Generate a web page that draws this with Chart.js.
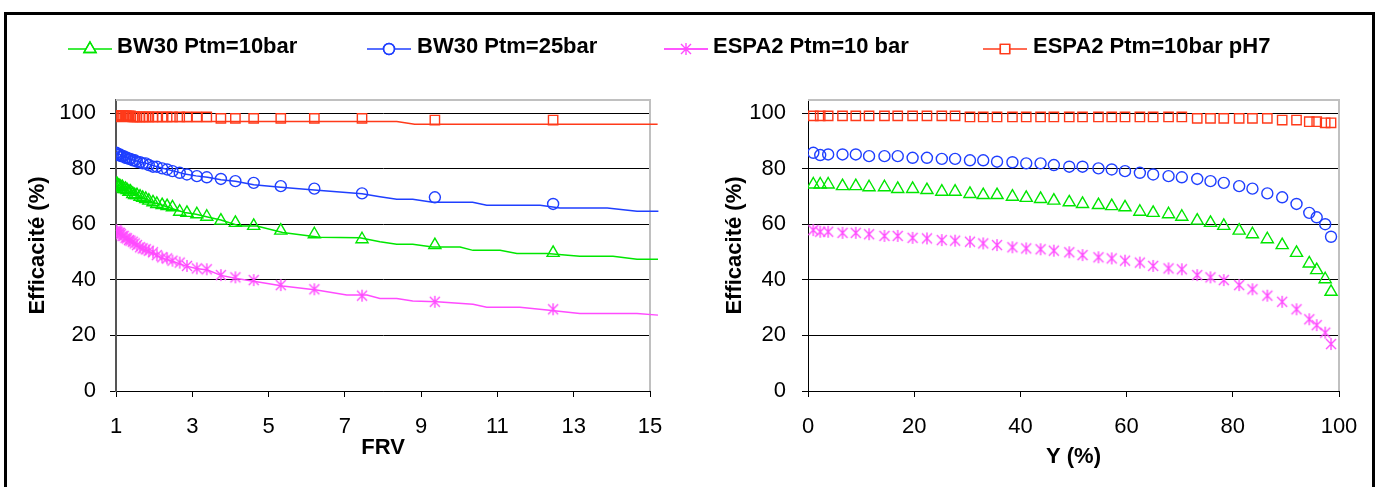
<!DOCTYPE html>
<html><head><meta charset="utf-8">
<script src="https://cdn.jsdelivr.net/npm/chart.js@4.4.1/dist/chart.umd.min.js"></script>
<style>
html,body{margin:0;padding:0;background:#fff;width:1377px;height:487px;overflow:hidden;}
#frame{position:absolute;left:4px;top:12px;width:1365px;height:600px;border:3px solid #000;}
canvas.ch{position:absolute;top:0;}
.leg{position:absolute;font:bold 22px 'Liberation Sans',Arial,sans-serif;line-height:26px;top:33px;white-space:nowrap;color:#000;}
.lic{position:absolute;top:37px;}
</style></head><body>
<div id="frame"></div>
<canvas id="cl" class="ch" style="left:0px" width="690" height="487"></canvas>
<canvas id="cr" class="ch" style="left:690px" width="687" height="487"></canvas>
<canvas id="l1" class="lic" style="left:67px" width="46" height="24"></canvas><span class="leg" style="left:117px">BW30 Ptm=10bar</span>
<canvas id="l2" class="lic" style="left:366px" width="46" height="24"></canvas><span class="leg" style="left:417px">BW30 Ptm=25bar</span>
<canvas id="l3" class="lic" style="left:663px" width="46" height="24"></canvas><span class="leg" style="left:713px">ESPA2 Ptm=10 bar</span>
<canvas id="l4" class="lic" style="left:982px" width="46" height="24"></canvas><span class="leg" style="left:1033px">ESPA2 Ptm=10bar pH7</span>
<script>
// ---- data ----
const seriesNames = ['BW30 Ptm=10bar', 'BW30 Ptm=25bar', 'ESPA2 Ptm=10 bar', 'ESPA2 Ptm=10bar pH7'];
const frvTicks = [1, 3, 5, 7, 9, 11, 13, 15];
const yPctTicks = [0, 20, 40, 60, 80, 100];
const effTicks = [0, 20, 40, 60, 80, 100];

// recovery Y (%) of each measured point (right chart)
const yPct = [1.0, 2.3, 3.8, 6.5, 9.0, 11.5, 14.4, 16.9, 19.7, 22.4, 25.2, 27.7, 30.5, 33.0, 35.6, 38.5, 41.1, 43.8, 46.3, 49.2,
              51.7, 54.7, 57.2, 59.7, 62.5, 65.0, 67.9, 70.4, 73.3, 75.8, 78.3, 81.2, 83.7, 86.5, 89.3, 92.0, 94.4, 95.8, 97.4, 98.5];
// FRV of the points shown in the left chart (first 36 points)
const frv = [1.01, 1.02, 1.04, 1.07, 1.10, 1.13, 1.17, 1.20, 1.25, 1.29, 1.34, 1.38, 1.44, 1.49, 1.55, 1.63, 1.70, 1.78, 1.86, 1.97,
             2.07, 2.21, 2.34, 2.48, 2.67, 2.86, 3.12, 3.38, 3.75, 4.13, 4.61, 5.32, 6.20, 7.45, 9.36, 12.46];

const effBW30_10 = [74.3, 74.3, 74.3, 73.7, 73.7, 73.3, 73.3, 72.7, 72.7, 72.3, 71.7, 71.7, 70.9, 70.5, 70.5, 69.9, 69.5, 69.1, 68.5, 67.9,
                    67.3, 66.9, 66.5, 66.1, 64.5, 64.1, 63.6, 62.7, 61.3, 60.5, 59.4, 57.7, 56.4, 54.6, 52.5, 49.7, 45.9, 43.5, 40.2, 35.7];
const effBW30_25 = [85.7, 84.9, 85.1, 85.1, 85.1, 84.5, 84.5, 84.5, 83.9, 83.9, 83.5, 83.5, 83.0, 83.0, 82.5, 82.3, 81.9, 81.9, 81.3, 80.7,
                    80.7, 80.1, 79.7, 79.1, 78.5, 77.9, 77.3, 76.9, 76.3, 75.5, 74.9, 73.7, 72.8, 71.1, 69.7, 67.3, 64.1, 62.5, 60.0, 55.5];
const effESPA2 = [57.9, 57.3, 57.3, 56.9, 56.9, 56.4, 55.8, 55.8, 55.1, 54.9, 54.3, 54.1, 53.7, 53.1, 52.5, 51.7, 51.3, 51.0, 50.5, 49.9,
                  48.9, 48.1, 47.7, 46.9, 46.2, 45.0, 44.1, 43.8, 41.7, 40.9, 39.9, 38.1, 36.6, 34.3, 32.1, 29.4, 25.8, 23.7, 21.0, 16.9];
const effESPA2pH7 = [99.0, 99.0, 99.0, 99.0, 99.0, 99.0, 99.0, 99.0, 99.0, 99.0, 99.0, 99.0, 98.6, 98.6, 98.6, 98.6, 98.6, 98.6, 98.6, 98.6,
                     98.6, 98.6, 98.6, 98.6, 98.6, 98.6, 98.6, 98.6, 98.1, 98.1, 98.1, 98.1, 98.1, 98.1, 97.5, 97.5, 96.9, 96.9, 96.5, 96.5];

// continuous curves of the left chart (FRV, efficiency)
const lineBW30_10_x = [1.0, 1.1, 1.25, 1.4, 1.6, 1.8, 2.0, 2.2, 2.5, 2.8, 3.1, 3.4, 3.75, 4.24, 4.69, 5.37, 6.34, 7.39, 7.92, 8.36, 8.78, 9.30, 10.02, 10.36, 11.07, 11.51, 12.30, 13.16, 14.03, 14.66, 15.21];
const lineBW30_10_y = [74.3, 73.7, 72.7, 71.4, 70.0, 69.0, 67.7, 66.9, 65.5, 64.2, 63.6, 62.6, 61.5, 59.4, 59.4, 57.0, 55.3, 55.1, 53.7, 52.8, 52.8, 51.8, 51.8, 50.6, 50.6, 49.5, 49.5, 48.5, 48.5, 47.4, 47.4];
const lineBW30_25_x = [1.0, 1.1, 1.25, 1.4, 1.6, 1.8, 2.0, 2.2, 2.5, 2.8, 3.1, 3.4, 3.75, 4.13, 4.61, 5.32, 6.20, 7.45, 7.92, 8.36, 8.78, 9.30, 10.35, 10.72, 12.12, 12.64, 13.88, 14.66, 15.22];
const lineBW30_25_y = [85.7, 85.1, 84.2, 83.4, 82.5, 81.9, 81.0, 80.2, 79.2, 78.1, 77.4, 76.9, 76.0, 75.5, 74.2, 73.3, 72.3, 71.0, 69.9, 69.0, 69.0, 67.9, 67.9, 66.8, 66.8, 65.8, 65.8, 64.7, 64.7];
const lineESPA2_x = [1.0, 1.1, 1.25, 1.4, 1.6, 1.8, 2.0, 2.2, 2.5, 2.8, 3.1, 3.4, 3.75, 4.16, 4.69, 5.37, 6.26, 7.05, 7.58, 7.92, 8.36, 8.78, 9.41, 10.36, 10.72, 11.59, 12.30, 13.16, 14.66, 15.21];
const lineESPA2_y = [57.9, 56.9, 55.1, 53.9, 51.8, 50.6, 49.3, 47.9, 46.6, 45.1, 44.1, 43.5, 41.6, 40.5, 39.3, 37.8, 36.3, 34.5, 34.5, 33.3, 33.3, 32.4, 32.1, 31.2, 30.1, 30.1, 29.1, 27.9, 27.9, 27.3];
const lineESPA2pH7_x = [1.0, 8.36, 8.83, 15.2];
const lineESPA2pH7_y = [97.0, 97.0, 96.0, 96.0];

// ---- styling ----
const FONT = "'Liberation Sans', Arial, sans-serif";
Chart.defaults.font.family = FONT;
Chart.defaults.font.size = 22;
Chart.defaults.color = '#000';
const GREEN = '#00e600', BLUE = '#1f3fff', MAGENTA = '#ff4bff', RED = '#ff3a1a';

function asterisk(color) {
  const c = document.createElement('canvas');
  c.width = 14; c.height = 14;
  const g = c.getContext('2d');
  g.strokeStyle = color; g.lineWidth = 1.4;
  g.beginPath();
  g.moveTo(7, 1); g.lineTo(7, 13);
  g.moveTo(2, 2); g.lineTo(12, 12);
  g.moveTo(12, 2); g.lineTo(2, 12);
  g.stroke();
  return c;
}
const starImg = asterisk(MAGENTA);

const series = [
  {vals: effBW30_10, color: GREEN, style: 'triangle', r: 7, lx: lineBW30_10_x, ly: lineBW30_10_y},
  {vals: effBW30_25, color: BLUE, style: 'circle', r: 5.5, lx: lineBW30_25_x, ly: lineBW30_25_y},
  {vals: effESPA2, color: MAGENTA, style: starImg, r: 7, lx: lineESPA2_x, ly: lineESPA2_y},
  {vals: effESPA2pH7, color: RED, style: 'rect', r: 6.6, lx: lineESPA2pH7_x, ly: lineESPA2pH7_y}
];

const plotFrame = {
  id: 'plotFrame',
  beforeDatasetsDraw(chart) {
    const {ctx, chartArea: a} = chart;
    ctx.save();
    ctx.strokeStyle = '#c0c0c0';
    ctx.lineWidth = 2;
    ctx.beginPath();
    ctx.moveTo(a.left, a.top); ctx.lineTo(a.right, a.top); ctx.lineTo(a.right, a.bottom);
    ctx.stroke();
    ctx.restore();
  }
};

function makeOptions(cfg) {
  return {
    responsive: false,
    animation: false,
    devicePixelRatio: 1,
    layout: {padding: {left: 10, top: 100, right: cfg.padRight, bottom: cfg.padBottom}},
    plugins: {legend: {display: false}, tooltip: {enabled: false}},
    scales: {
      x: {
        type: 'linear', min: cfg.xmin, max: cfg.xmax,
        afterBuildTicks: s => { s.ticks = cfg.xticks.map(v => ({value: v})); },
        afterFit: s => { s.height = cfg.xHeight; },
        ticks: {padding: 17, font: {size: 22}, maxRotation: 0, autoSkip: false},
        grid: {drawOnChartArea: false, drawTicks: true, tickLength: 6, color: '#000', lineWidth: 1},
        border: {color: '#000', width: 1},
        title: {display: true, text: cfg.xtitle, font: {size: 22, weight: 'bold'}, padding: {top: 0, bottom: 0}}
      },
      y: {
        type: 'linear', min: 0, max: 104.7,
        afterBuildTicks: s => { s.ticks = effTicks.map(v => ({value: v})); },
        afterFit: s => { s.width = cfg.yWidth; },
        ticks: {padding: cfg.yPad, font: {size: 22}},
        grid: {color: '#000', lineWidth: 1, tickLength: 6},
        border: {color: cfg.axisColor, width: cfg.axisWidth},
        title: {display: true, text: 'Efficacité (%)', font: {size: 22, weight: 'bold'}, padding: {top: cfg.titlePad, bottom: 0}}
      }
    }
  };
}

// left chart: efficiency vs FRV
const leftData = [];
series.forEach(s => {
  leftData.push({
    data: s.lx.map((x, i) => ({x, y: s.ly[i]})),
    showLine: true, pointRadius: 0, borderColor: s.color, borderWidth: 1.5, clip: false
  });
});
series.forEach(s => {
  leftData.push({
    data: frv.map((x, i) => ({x, y: s.vals[i]})),
    showLine: false, pointStyle: s.style, pointRadius: s.r, pointBorderWidth: 1.4,
    borderColor: s.color, backgroundColor: 'rgba(0,0,0,0)'
  });
});
new Chart(document.getElementById('cl'), {
  type: 'scatter',
  data: {datasets: leftData},
  options: makeOptions({xmin: 1, xmax: 15, xticks: frvTicks, xtitle: 'FRV', xHeight: 70, padRight: 40, padBottom: 26,
                        yWidth: 106, yPad: 14, axisColor: '#555', axisWidth: 2, titlePad: 15}),
  plugins: [plotFrame]
});

// right chart: efficiency vs Y
new Chart(document.getElementById('cr'), {
  type: 'scatter',
  data: {datasets: series.map(s => ({
    data: yPct.map((x, i) => ({x, y: s.vals[i]})),
    showLine: false, pointStyle: s.style, pointRadius: s.r, pointBorderWidth: 1.4,
    borderColor: s.color, backgroundColor: 'rgba(0,0,0,0)'
  }))},
  options: makeOptions({xmin: 0, xmax: 100, xticks: yPctTicks, xtitle: 'Y (%)', xHeight: 79, padRight: 38, padBottom: 17,
                        yWidth: 108, yPad: 16, axisColor: '#000', axisWidth: 1, titlePad: 22}),
  plugins: [plotFrame]
});

// legend icons
['l1', 'l2', 'l3', 'l4'].forEach((id, k) => {
  const s = series[k];
  const c = document.getElementById(id);
  const g = c.getContext('2d');
  g.strokeStyle = s.color; g.lineWidth = 1.5;
  g.beginPath(); g.moveTo(1, 12); g.lineTo(45, 12); g.stroke();
  g.fillStyle = '#fff';
  g.lineWidth = 1.4;
  Chart.helpers.drawPoint(g, {pointStyle: s.style, radius: s.r, borderWidth: 1.4, rotation: 0}, 23, 12);
  g.stroke();
});
</script>
</body></html>
